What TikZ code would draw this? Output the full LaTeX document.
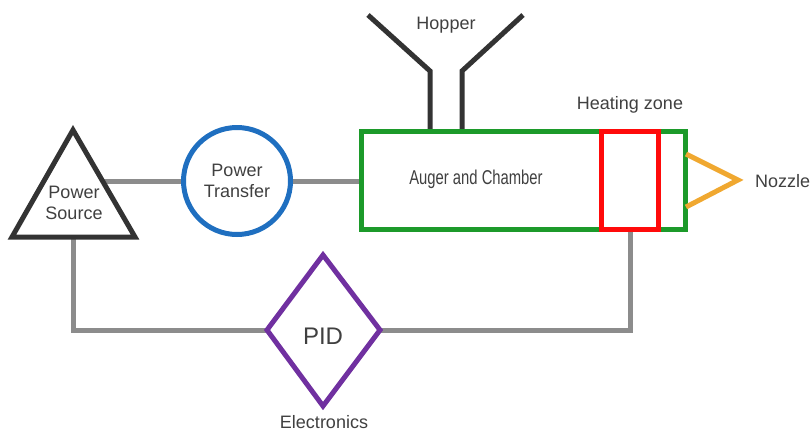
\documentclass[tikz,border=0pt]{standalone}
\usepackage{fontspec}
\setmainfont{Liberation Sans}
\newfontfamily\narrowfam[FakeStretch=0.74]{Liberation Sans}
\begin{document}
\begin{tikzpicture}[x=1pt,y=-1pt,
  wire/.style={draw=wiregray,line width=5pt},
  shp/.style={line width=5pt,line join=miter},
  lbl/.style={text=txtgray,font=\fontsize{18}{20}\selectfont,align=center,inner sep=0pt}]
\definecolor{wiregray}{HTML}{8C8C8C}
\definecolor{darkgray}{HTML}{333333}
\definecolor{txtgray}{HTML}{404040}
\definecolor{bluec}{HTML}{1F6FC0}
\definecolor{greenc}{HTML}{1C9A2A}
\definecolor{redc}{HTML}{FF0A0A}
\definecolor{orangec}{HTML}{F0A830}
\definecolor{purplec}{HTML}{7030A0}
\useasboundingbox (0,0) rectangle (810,434);
% coordinates
\coordinate (psTop) at (73,130);
\coordinate (psL) at (12,237);
\coordinate (psR) at (135,237);
\coordinate (psB) at (73,237);
\coordinate (psSide) at (102,181);
\coordinate (ptC) at (237,181);
\coordinate (boxNW) at (361,131);
\coordinate (boxSE) at (685,229);
\coordinate (boxW) at (361,181);
\coordinate (heatNW) at (601,131);
\coordinate (heatSE) at (658,229);
\coordinate (heatB) at (630,229);
\coordinate (c1) at (73,330);
\coordinate (c2) at (630,330);
\coordinate (pidL) at (267,330);
\coordinate (pidR) at (380,330);
\coordinate (pidT) at (323,255);
\coordinate (pidBt) at (323,406);
% power transfer circle
\node[draw=bluec,line width=5pt,circle,minimum size=107pt,inner sep=0pt,fill=white] (pt) at (ptC) {};
% wires
\draw[wire] (psSide) -- (pt.west);
\draw[wire] (pt.east) -- (boxW);
\draw[wire] (psB) -- (c1) -- (pidL);
\draw[wire] (pidR) -- (c2) -- (heatB);
% power source
\draw[shp,draw=darkgray,fill=white] (psTop) -- (psR) -- (psL) -- cycle;
\node[lbl] (pslbl) at (74,203) {Power\\[1pt]Source};
\node[lbl] (ptlbl) at (ptC) {Power\\[1pt]Transfer};
% hopper
\draw[shp,draw=darkgray] (368,15) -- (430,71) -- (430,131);
\draw[shp,draw=darkgray] (523,15) -- (462,71) -- (462,131);
\node[lbl] (hop) at (446,25) {Hopper};
% chamber
\draw[shp,draw=greenc,fill=white] (boxNW) rectangle (boxSE);
\node[lbl,font=\narrowfam\fontsize{20}{22}\selectfont] (aug) at (476,179) {Auger and Chamber};
\draw[shp,draw=redc] (heatNW) rectangle (heatSE);
\node[lbl] (heat) at (630,105) {Heating zone};
% nozzle
\draw[shp,draw=orangec] (686,154) -- (738,180) -- (686,207);
\node[lbl,anchor=west] (noz) at (755,181) {Nozzle};
% PID
\draw[shp,draw=purplec,fill=white] (pidT) -- (pidR) -- (pidBt) -- (pidL) -- cycle;
\node[lbl,font=\fontsize{24}{26}\selectfont] (pid) at (323,336) {PID};
\node[lbl] (elec) at (324,422) {Electronics};
\end{tikzpicture}
\end{document}
